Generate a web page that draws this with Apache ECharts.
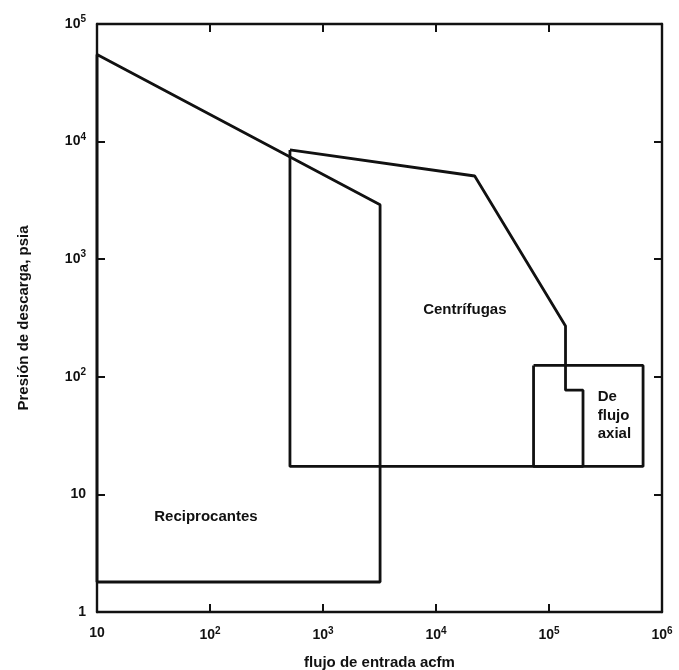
<!DOCTYPE html>
<html>
<head>
<meta charset="utf-8">
<script src="https://cdn.jsdelivr.net/npm/echarts@6/dist/echarts.min.js"></script>
<style>html,body{margin:0;padding:0;background:#fff}#c{width:679px;height:670px}</style>
</head>
<body>
<div id="c"></div>
<script>
// Region outlines: [acfm, psia]
const reciprocantes = [[10, 55000], [3200, 2900], [3200, 1.8], [10, 1.8], [10, 55000]];
const centrifugas = [[510, 8500], [22000, 5100], [140000, 270], [140000, 77], [200000, 77], [200000, 17.3], [510, 17.3], [510, 8500]];
const flujoAxial = [[73000, 125], [680000, 125], [680000, 17.3], [73000, 17.3], [73000, 125]];
const regionNames = ['Reciprocantes', 'Centrífugas', 'De\nflujo\naxial'];
const regionLabelAt = [[92, 6.4], [18000, 370], [270000, 47]];
const xTickValues = [10, 100, 1000, 10000, 100000, 1000000];
const yTickValues = [1, 10, 100, 1000, 10000, 100000];

const FONT = 'Liberation Sans, Arial, sans-serif';
function powLabel(v) {
  const e = Math.round(Math.log10(v));
  if (e === 0) return '1';
  if (e === 1) return '10';
  return '10{s|' + e + '}';
}
const rich = { s: { fontSize: 10, fontWeight: 'bold', fontFamily: FONT, color: '#111', padding: [0, 0, 9, 0] } };
const lineStyle = { color: '#111', width: 2.8 };
const axisLineStyle = { color: '#111', width: 2.4 };

const chart = echarts.init(document.getElementById('c'), null, { renderer: 'canvas' });
chart.setOption({
  animation: false,
  backgroundColor: '#fff',
  grid: { left: 97, top: 24, right: 17, bottom: 58, containLabel: false, outerBoundsMode: 'none' },
  xAxis: [
    {
      type: 'log', logBase: 10, min: xTickValues[0], max: xTickValues[xTickValues.length - 1],
      name: 'flujo de entrada acfm', nameLocation: 'middle', nameGap: 43,
      nameTextStyle: { fontFamily: FONT, fontSize: 15, fontWeight: 'bold', color: '#111' },
      axisLine: { show: true, lineStyle: axisLineStyle },
      axisTick: { show: true, inside: true, length: 8, lineStyle: { color: '#111', width: 2 } },
      minorTick: { show: false },
      splitLine: { show: false },
      axisLabel: { formatter: powLabel, rich: rich, fontFamily: FONT, fontSize: 14, fontWeight: 'bold', color: '#111', margin: 14 }
    },
    {
      type: 'log', logBase: 10, min: xTickValues[0], max: xTickValues[xTickValues.length - 1], position: 'top',
      axisLine: { show: true, lineStyle: axisLineStyle },
      axisTick: { show: true, inside: true, length: 8, lineStyle: { color: '#111', width: 2 } },
      splitLine: { show: false }, axisLabel: { show: false }
    }
  ],
  yAxis: [
    {
      type: 'log', logBase: 10, min: yTickValues[0], max: yTickValues[yTickValues.length - 1],
      name: 'Presión de descarga, psia', nameLocation: 'middle', nameGap: 66, nameRotate: 90,
      nameTextStyle: { fontFamily: FONT, fontSize: 15, fontWeight: 'bold', color: '#111' },
      axisLine: { show: true, lineStyle: axisLineStyle },
      axisTick: { show: true, inside: true, length: 8, lineStyle: { color: '#111', width: 2 } },
      splitLine: { show: false },
      axisLabel: { formatter: powLabel, rich: rich, fontFamily: FONT, fontSize: 14, fontWeight: 'bold', color: '#111', margin: 11 }
    },
    {
      type: 'log', logBase: 10, min: yTickValues[0], max: yTickValues[yTickValues.length - 1], position: 'right',
      axisLine: { show: true, lineStyle: axisLineStyle },
      axisTick: { show: true, inside: true, length: 8, lineStyle: { color: '#111', width: 2 } },
      splitLine: { show: false }, axisLabel: { show: false }
    }
  ],
  series: [
    { type: 'line', data: reciprocantes, showSymbol: false, lineStyle: lineStyle, silent: true },
    { type: 'line', data: centrifugas, showSymbol: false, lineStyle: lineStyle, silent: true },
    { type: 'line', data: flujoAxial, showSymbol: false, lineStyle: lineStyle, silent: true },
    {
      type: 'scatter', symbolSize: 0, silent: true,
      itemStyle: { opacity: 1, color: '#111' },
      data: regionLabelAt.map((p, i) => ({
        value: p, name: regionNames[i],
        label: i === 2 ? { align: 'left' } : {}
      })),
      label: {
        show: true, position: 'inside', formatter: p => p.name,
        fontFamily: FONT, fontSize: 15, fontWeight: 'bold', color: '#111', lineHeight: 18.5
      }
    }
  ]
});
</script>
</body>
</html>
